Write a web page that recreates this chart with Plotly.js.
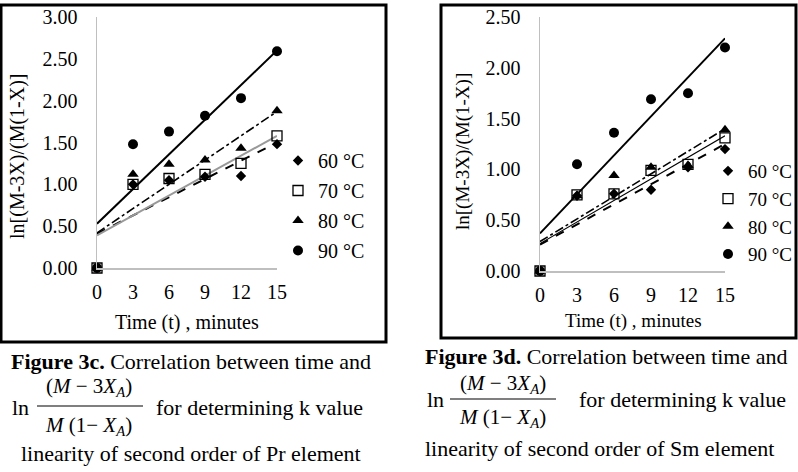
<!DOCTYPE html>
<html>
<head>
<meta charset="utf-8">
<script src="https://cdn.plot.ly/plotly-3.0.1.min.js"></script>
<style>html,body{margin:0;padding:0;background:#fff;}#chart{width:798px;height:472px;}</style>
</head>
<body>
<div id="chart"></div>
<script>
// ---- data ----
const times = [0, 3, 6, 9, 12, 15];
const trendX = [0, 15];
const seriesNames = ['60 °C', '70 °C', '80 °C', '90 °C'];

// Figure 3c (Pr)
const pr60 = [0, 1.00, 1.05, 1.09, 1.10, 1.48];
const pr70 = [0, 1.00, 1.07, 1.12, 1.25, 1.58];
const pr80 = [0, 1.12, 1.24, 1.29, 1.43, 1.88];
const pr90 = [0, 1.48, 1.63, 1.82, 2.03, 2.59];
const prTrend60 = [0.41, 1.50];
const prTrend70 = [0.39, 1.58];
const prTrend80 = [0.42, 1.87];
const prTrend90 = [0.53, 2.60];

// Figure 3d (Sm)
const sm60 = [0, 0.74, 0.76, 0.80, 1.02, 1.20];
const sm70 = [0, 0.75, 0.76, 0.99, 1.05, 1.31];
const sm80 = [0, 0.74, 0.94, 1.02, 1.04, 1.39];
const sm90 = [0, 1.05, 1.36, 1.69, 1.75, 2.20];
const smTrend60 = [0.26, 1.25];
const smTrend70 = [0.27, 1.33];
const smTrend80 = [0.29, 1.40];
const smTrend90 = [0.37, 2.29];

const xTicks = [0, 3, 6, 9, 12, 15];
const prYTicks = [0, 0.5, 1.0, 1.5, 2.0, 2.5, 3.0];
const smYTicks = [0, 0.5, 1.0, 1.5, 2.0, 2.5];

// ---- styles ----
const W = 798, H = 472;
const px = v => v / W;
const py = v => 1 - v / H;
const FONT = '"Liberation Serif", "Times New Roman", serif';
const markerStyles = [
  {symbol: 'diamond', size: 8, color: '#000'},
  {symbol: 'square-open', size: 10, color: '#000', line: {width: 1.3, color: '#000'}},
  {symbol: 'triangle-up', size: 10, color: '#000'},
  {symbol: 'circle', size: 10, color: '#000'}
];
const prLineStyles = [
  {color: '#000', width: 2, dash: 'dash'},
  {color: '#999', width: 2, dash: 'solid'},
  {color: '#000', width: 1.6, dash: 'dashdot'},
  {color: '#000', width: 2, dash: 'solid'}
];
const smLineStyles = [
  {color: '#000', width: 2, dash: 'dash'},
  {color: '#000', width: 1.2, dash: 'solid'},
  {color: '#000', width: 1.6, dash: 'dashdot'},
  {color: '#000', width: 2, dash: 'solid'}
];

const prData = [pr60, pr70, pr80, pr90];
const prTrends = [prTrend60, prTrend70, prTrend80, prTrend90];
const smData = [sm60, sm70, sm80, sm90];
const smTrends = [smTrend60, smTrend70, smTrend80, smTrend90];

const traces = [];
function addPanel(data, trends, lineStyles, xa, ya, legendId) {
  trends.forEach((t, i) => {
    traces.push({x: trendX, y: t, xaxis: xa, yaxis: ya, mode: 'lines',
      line: lineStyles[i], showlegend: false, hoverinfo: 'skip', cliponaxis: false});
  });
  data.forEach((d, i) => {
    traces.push({x: times, y: d, xaxis: xa, yaxis: ya, mode: 'markers',
      name: seriesNames[i], marker: markerStyles[i], legend: legendId,
      legendgroup: legendId + i, cliponaxis: false});
  });
}
addPanel(prData, prTrends, prLineStyles, 'x', 'y', 'legend');
addPanel(smData, smTrends, smLineStyles, 'x2', 'y2', 'legend2');

const axisCommon = {showgrid: false, zeroline: false, showline: true, linecolor: '#bfbfbf',
  linewidth: 1.5, ticks: '', fixedrange: true};

const CAP = 22;
const annotations = [
  // axis titles
  {text: 'ln[(M-3X)/(M(1-X)]', x: px(17), y: py(156), textangle: -90, font: {size: 20}},
  {text: 'Time (t) , minutes', x: px(187), y: py(322), font: {size: 20}},
  {text: 'ln[(M-3X)/(M(1-X)]', x: px(463), y: py(152), textangle: -90, font: {size: 19}},
  {text: 'Time (t) , minutes', x: px(633), y: py(321), font: {size: 19}},
  // caption 3c
  {text: '<b>Figure 3c.</b> Correlation between time and', x: px(10), y: py(361), xanchor: 'left', font: {size: CAP}},
  {text: 'ln', x: px(11), y: py(407), xanchor: 'left', font: {size: CAP}},
  {text: '(<i>M</i> − 3<i>X</i><sub><i>A</i></sub>)', x: px(89), y: py(387), xanchor: 'center', font: {size: CAP - 1}},
  {text: '<i>M</i> (1− <i>X</i><sub><i>A</i></sub>)', x: px(88), y: py(426), xanchor: 'center', font: {size: CAP - 1}},
  {text: 'for determining k value', x: px(155), y: py(407), xanchor: 'left', font: {size: CAP}},
  {text: 'linearity of second order of Pr element', x: px(20), y: py(453), xanchor: 'left', font: {size: CAP}},
  // caption 3d
  {text: '<b>Figure 3d.</b> Correlation between time and', x: px(424), y: py(356), xanchor: 'left', font: {size: CAP}},
  {text: 'ln', x: px(426), y: py(399), xanchor: 'left', font: {size: CAP}},
  {text: '(<i>M</i> − 3<i>X</i><sub><i>A</i></sub>)', x: px(503), y: py(384), xanchor: 'center', font: {size: CAP - 1}},
  {text: '<i>M</i> (1− <i>X</i><sub><i>A</i></sub>)', x: px(502), y: py(418), xanchor: 'center', font: {size: CAP - 1}},
  {text: 'for determining k value', x: px(578), y: py(399), xanchor: 'left', font: {size: CAP}},
  {text: 'linearity of second order of Sm element', x: px(424), y: py(448), xanchor: 'left', font: {size: CAP}}
].map(a => Object.assign({xref: 'paper', yref: 'paper', showarrow: false, yanchor: 'middle',
  xanchor: a.xanchor || 'center', borderpad: 0}, a, {font: Object.assign({family: FONT, color: '#000'}, a.font)}));

const shapes = [
  {type: 'rect', xref: 'paper', yref: 'paper', x0: px(1), x1: px(386), y0: py(342), y1: py(5),
    line: {color: '#000', width: 3}},
  {type: 'rect', xref: 'paper', yref: 'paper', x0: px(441), x1: px(796), y0: py(338), y1: py(5),
    line: {color: '#000', width: 3}},
  {type: 'line', xref: 'paper', yref: 'paper', x0: px(37), x1: px(143), y0: py(406), y1: py(406),
    line: {color: '#000', width: 1.2}},
  {type: 'line', xref: 'paper', yref: 'paper', x0: px(450), x1: px(556), y0: py(399), y1: py(399),
    line: {color: '#000', width: 1.2}}
];

const layout = {
  width: W, height: H,
  margin: {l: 0, r: 0, t: 0, b: 0},
  paper_bgcolor: '#fff', plot_bgcolor: 'rgba(0,0,0,0)',
  font: {family: FONT, color: '#000'},
  showlegend: true,
  xaxis: Object.assign({}, axisCommon, {domain: [px(97), px(277)], range: [0, 15], tickvals: xTicks,
    tickfont: {size: 20}, ticklabelstandoff: 5, anchor: 'y'}),
  yaxis: Object.assign({}, axisCommon, {domain: [py(268), py(17)], range: [0, 3], tickvals: prYTicks,
    tickformat: '.2f', tickfont: {size: 20}, ticklabelstandoff: 14, anchor: 'x'}),
  xaxis2: Object.assign({}, axisCommon, {domain: [px(540), px(725)], range: [0, 15], tickvals: xTicks,
    tickfont: {size: 20}, ticklabelstandoff: 5, anchor: 'y2'}),
  yaxis2: Object.assign({}, axisCommon, {domain: [py(271), py(17)], range: [0, 2.5], tickvals: smYTicks,
    tickformat: '.2f', tickfont: {size: 20}, ticklabelstandoff: 14, anchor: 'x2'}),
  legend: {x: px(278), y: py(141), xanchor: 'left', yanchor: 'top', bgcolor: 'rgba(0,0,0,0)',
    font: {size: 20, family: FONT}, itemwidth: 30, tracegroupgap: 1},
  legend2: {x: px(708), y: py(152), xanchor: 'left', yanchor: 'top', bgcolor: 'rgba(0,0,0,0)',
    font: {size: 19, family: FONT}, itemwidth: 30, tracegroupgap: 0},
  annotations: annotations,
  shapes: shapes
};

Plotly.newPlot('chart', traces, layout, {displayModeBar: false, staticPlot: true});
</script>
</body>
</html>
